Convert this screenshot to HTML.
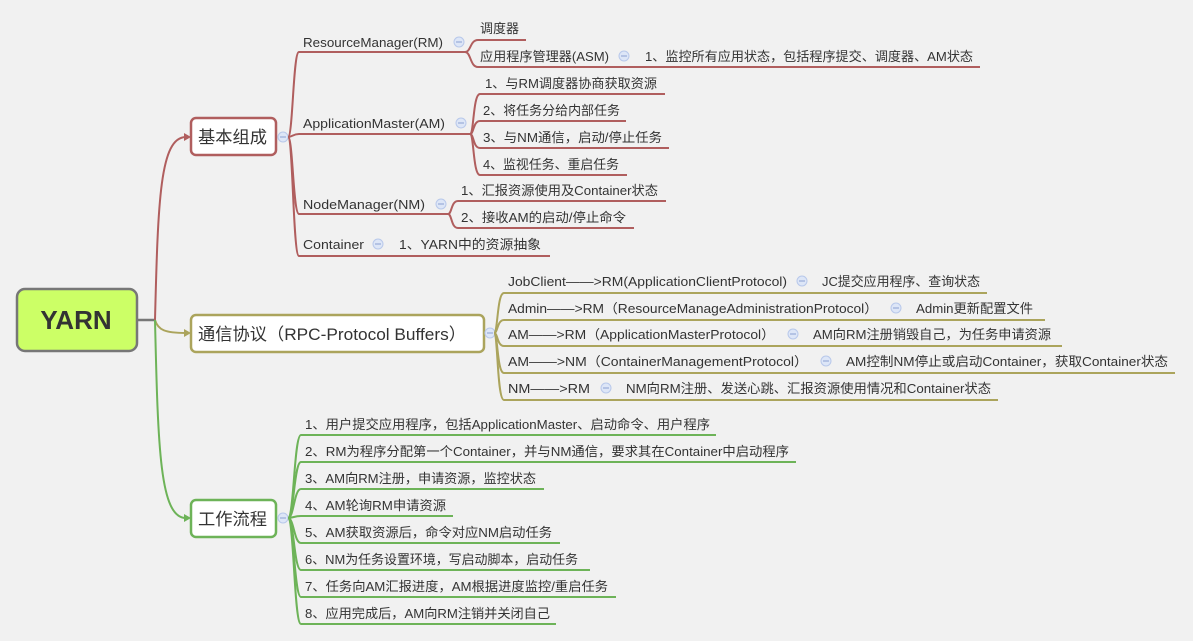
<!DOCTYPE html>
<html><head><meta charset="utf-8"><style>
html,body{margin:0;padding:0;background:#f1f1f1;}
svg{display:block;}
text{font-family:"Liberation Sans","Noto Sans CJK SC",sans-serif;fill:#333;font-size:13px;}
.r{stroke:#b05e5e;} .o{stroke:#aba45c;} .g{stroke:#6db358;}
path{fill:none;stroke-width:2;}
.c{fill:#dde6f7;stroke:#b8c8ea;stroke-width:1;}
.cl{stroke:#8aa0d0;stroke-width:1;}
</style></head><body>
<svg width="1193" height="641" viewBox="0 0 1193 641" xmlns="http://www.w3.org/2000/svg">
<defs>
<g id="col"><circle class="c" r="5"/><line class="cl" x1="-3" y1="0" x2="3" y2="0"/></g>
</defs>
<path d="M137 320 L155 320" style="stroke:#777;stroke-width:2.5"/>
<path class="r" d="M155 320 C158 200,160 137,186 137"/>
<path class="o" d="M155 320 C158 330,165 333,186 333"/>
<path class="g" d="M155 320 C158 450,160 518,186 518"/>
<polygon points="191,137 184,133 184,141" fill="#b05e5e"/>
<polygon points="191,333 184,329 184,337" fill="#aba45c"/>
<polygon points="191,518 184,514 184,522" fill="#6db358"/>
<rect x="17" y="289" width="120" height="62" rx="8" fill="#ccff66" stroke="#777" stroke-width="2.5"/>
<text x="76" y="329" text-anchor="middle" style="font-size:26px;font-weight:bold;fill:#333">YARN</text>

<rect x="191" y="118" width="85" height="37" rx="5" fill="#fff" stroke="#b05e5e" stroke-width="2.5"/>
<text x="198" y="143" style="font-size:17px" textLength="69" lengthAdjust="spacingAndGlyphs">基本组成</text>
<use href="#col" x="283" y="137"/>
<path class="r" d="M288 137 C293 137,293 52,299 52 L465 52"/>
<path class="r" d="M288 137 C292 137,293 134,299 134 L470 134"/>
<path class="r" d="M288 137 C293 137,293 214,299 214 L448 214"/>
<path class="r" d="M288 137 C293 137,293 256,299 256 L550 256"/>
<text x="303" y="47" textLength="140" lengthAdjust="spacingAndGlyphs">ResourceManager(RM)</text>
<use href="#col" x="459" y="42"/>
<text x="303" y="128" textLength="142" lengthAdjust="spacingAndGlyphs">ApplicationMaster(AM)</text>
<use href="#col" x="461" y="123"/>
<text x="303" y="209" textLength="122" lengthAdjust="spacingAndGlyphs">NodeManager(NM)</text>
<use href="#col" x="441" y="204"/>
<text x="303" y="249" textLength="61" lengthAdjust="spacingAndGlyphs">Container</text>
<use href="#col" x="378" y="244"/>
<text x="399" y="249" textLength="142" lengthAdjust="spacingAndGlyphs">1、YARN中的资源抽象</text>

<path class="r" d="M465 52 C471 52,470 40,478 40 L526 40"/>
<path class="r" d="M465 52 C471 52,470 67,478 67 L980 67"/>
<text x="480" y="33" textLength="39" lengthAdjust="spacingAndGlyphs">调度器</text>
<text x="480" y="61" textLength="129" lengthAdjust="spacingAndGlyphs">应用程序管理器(ASM)</text>
<use href="#col" x="624" y="56"/>
<text x="645" y="61" textLength="328" lengthAdjust="spacingAndGlyphs">1、监控所有应用状态，包括程序提交、调度器、AM状态</text>

<path class="r" d="M470 134 C474 134,473 94,480 94 L665 94"/>
<path class="r" d="M470 134 C474 134,473 121,480 121 L626 121"/>
<path class="r" d="M470 134 C474 134,473 148,480 148 L669 148"/>
<path class="r" d="M470 134 C474 134,473 175,480 175 L627 175"/>
<text x="485" y="88" textLength="172" lengthAdjust="spacingAndGlyphs">1、与RM调度器协商获取资源</text>
<text x="483" y="115" textLength="137" lengthAdjust="spacingAndGlyphs">2、将任务分给内部任务</text>
<text x="483" y="142" textLength="179" lengthAdjust="spacingAndGlyphs">3、与NM通信，启动/停止任务</text>
<text x="483" y="169" textLength="136" lengthAdjust="spacingAndGlyphs">4、监视任务、重启任务</text>

<path class="r" d="M448 214 C452 214,451 201,458 201 L666 201"/>
<path class="r" d="M448 214 C452 214,451 228,458 228 L634 228"/>
<text x="461" y="195" textLength="197" lengthAdjust="spacingAndGlyphs">1、汇报资源使用及Container状态</text>
<text x="461" y="222" textLength="165" lengthAdjust="spacingAndGlyphs">2、接收AM的启动/停止命令</text>

<rect x="191" y="315" width="293" height="37" rx="5" fill="#fff" stroke="#aba45c" stroke-width="2.5"/>
<text x="198" y="340" style="font-size:17px" textLength="268" lengthAdjust="spacingAndGlyphs">通信协议（RPC-Protocol Buffers）</text>
<use href="#col" x="490" y="333"/>
<path class="o" d="M494 333 C498 333,497 293,504 293 L987 293"/>
<path class="o" d="M494 333 C498 333,497 320,504 320 L1045 320"/>
<path class="o" d="M494 333 C498 333,497 346,504 346 L1062 346"/>
<path class="o" d="M494 333 C498 333,497 373,504 373 L1175 373"/>
<path class="o" d="M494 333 C498 333,497 400,504 400 L998 400"/>
<text x="508" y="286" textLength="279" lengthAdjust="spacingAndGlyphs">JobClient——&gt;RM(ApplicationClientProtocol)</text>
<use href="#col" x="802" y="281"/>
<text x="822" y="286" textLength="158" lengthAdjust="spacingAndGlyphs">JC提交应用程序、查询状态</text>
<text x="508" y="313" textLength="370" lengthAdjust="spacingAndGlyphs">Admin——&gt;RM（ResourceManageAdministrationProtocol）</text>
<use href="#col" x="896" y="308"/>
<text x="916" y="313" textLength="117" lengthAdjust="spacingAndGlyphs">Admin更新配置文件</text>
<text x="508" y="339" textLength="267" lengthAdjust="spacingAndGlyphs">AM——&gt;RM（ApplicationMasterProtocol）</text>
<use href="#col" x="793" y="334"/>
<text x="813" y="339" textLength="238" lengthAdjust="spacingAndGlyphs">AM向RM注册销毁自己，为任务申请资源</text>
<text x="508" y="366" textLength="300" lengthAdjust="spacingAndGlyphs">AM——&gt;NM（ContainerManagementProtocol）</text>
<use href="#col" x="826" y="361"/>
<text x="846" y="366" textLength="322" lengthAdjust="spacingAndGlyphs">AM控制NM停止或启动Container，获取Container状态</text>
<text x="508" y="393" textLength="82" lengthAdjust="spacingAndGlyphs">NM——&gt;RM</text>
<use href="#col" x="606" y="388"/>
<text x="626" y="393" textLength="365" lengthAdjust="spacingAndGlyphs">NM向RM注册、发送心跳、汇报资源使用情况和Container状态</text>

<rect x="191" y="500" width="85" height="37" rx="5" fill="#fff" stroke="#6db358" stroke-width="2.5"/>
<text x="198" y="525" style="font-size:17px" textLength="69" lengthAdjust="spacingAndGlyphs">工作流程</text>
<use href="#col" x="283" y="518"/>
<path class="g" d="M288 518 C294 518,294 435,301 435 L716 435"/>
<path class="g" d="M288 518 C294 518,294 462,301 462 L796 462"/>
<path class="g" d="M288 518 C294 518,294 489,301 489 L544 489"/>
<path class="g" d="M288 518 C293 518,294 516,301 516 L453 516"/>
<path class="g" d="M288 518 C294 518,294 543,301 543 L560 543"/>
<path class="g" d="M288 518 C294 518,294 570,301 570 L590 570"/>
<path class="g" d="M288 518 C294 518,294 597,301 597 L616 597"/>
<path class="g" d="M288 518 C294 518,294 624,301 624 L556 624"/>
<text x="305" y="429" textLength="405" lengthAdjust="spacingAndGlyphs">1、用户提交应用程序，包括ApplicationMaster、启动命令、用户程序</text>
<text x="305" y="456" textLength="484" lengthAdjust="spacingAndGlyphs">2、RM为程序分配第一个Container，并与NM通信，要求其在Container中启动程序</text>
<text x="305" y="483" textLength="231" lengthAdjust="spacingAndGlyphs">3、AM向RM注册，申请资源，监控状态</text>
<text x="305" y="510" textLength="141" lengthAdjust="spacingAndGlyphs">4、AM轮询RM申请资源</text>
<text x="305" y="537" textLength="247" lengthAdjust="spacingAndGlyphs">5、AM获取资源后，命令对应NM启动任务</text>
<text x="305" y="564" textLength="273" lengthAdjust="spacingAndGlyphs">6、NM为任务设置环境，写启动脚本，启动任务</text>
<text x="305" y="591" textLength="303" lengthAdjust="spacingAndGlyphs">7、任务向AM汇报进度，AM根据进度监控/重启任务</text>
<text x="305" y="618" textLength="245" lengthAdjust="spacingAndGlyphs">8、应用完成后，AM向RM注销并关闭自己</text>
</svg>
</body></html>
